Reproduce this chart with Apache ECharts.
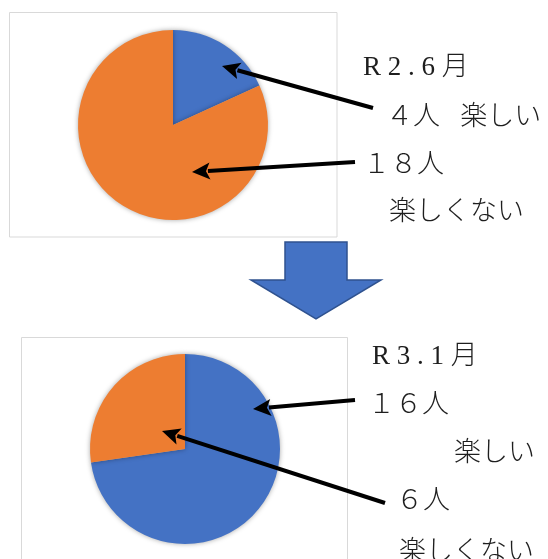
<!DOCTYPE html>
<html>
<head>
<meta charset="utf-8">
<script src="https://cdn.jsdelivr.net/npm/echarts@6/dist/echarts.min.js"></script>
<style>
  html, body { margin: 0; padding: 0; background: #fff; }
  #main { width: 548px; height: 559px; }
</style>
</head>
<body>
<div id="main"></div>
<script>
// Survey answers: how many children said school is fun / not fun
const categories = ['楽しい', '楽しくない'];
const periods = ['R 2 . 6 月', 'R 3 . 1 月'];
const countsR2 = [4, 18];
const countsR3 = [16, 6];
const sliceColors = ['#4472C4', '#ED7D31'];

const FONT = "'Liberation Serif', 'Noto Sans CJK JP', serif";
const INK = '#1e1e1e';

// Full-width digits, as typed in the handout
function fw(n) {
  return String(n).replace(/[0-9]/g, d => String.fromCharCode(d.charCodeAt(0) + 0xFEE0));
}

function label(text, x, y) {
  return {
    type: 'text', z: 50,
    style: { text, x, y, fill: INK, fontSize: 27, fontFamily: FONT, fontWeight: 300,
             verticalAlign: 'middle', align: 'left' }
  };
}

// Black callout arrow from (x1,y1) to the tip at (x2,y2)
function callout(x1, y1, x2, y2) {
  const dx = x2 - x1, dy = y2 - y1, len = Math.hypot(dx, dy);
  const ux = dx / len, uy = dy / len;
  const headLen = 18, headHalf = 8.5;
  const bx = x2 - ux * headLen, by = y2 - uy * headLen;
  return {
    type: 'group',
    children: [
      { type: 'line', z: 60, shape: { x1, y1, x2: bx + ux * 2, y2: by + uy * 2 },
        style: { stroke: '#000', lineWidth: 4 } },
      { type: 'polygon', z: 61,
        shape: { points: [[x2, y2], [bx - uy * headHalf, by + ux * headHalf], [bx + ux * 4, by + uy * 4], [bx + uy * headHalf, by - ux * headHalf]] },
        style: { fill: '#000' } }
    ]
  };
}

function pieSeries(counts, center) {
  return {
    type: 'pie',
    z: 2,
    center,
    radius: 95,
    startAngle: 90,
    clockwise: true,
    silent: true,
    label: { show: false },
    labelLine: { show: false },
    itemStyle: { borderWidth: 0, shadowBlur: 5, shadowColor: 'rgba(0,0,0,0.35)' },
    data: categories.map((name, i) => ({ name, value: counts[i], itemStyle: { color: sliceColors[i] } }))
  };
}

const chart = echarts.init(document.getElementById('main'), null, { renderer: 'canvas' });

chart.setOption({
  backgroundColor: '#fff',
  animation: false,
  series: [
    pieSeries(countsR2, [173, 125]),
    pieSeries(countsR3, [185, 449])
  ],
  graphic: [
    // frames around the two charts
    { type: 'rect', z: 0, shape: { x: 9.5, y: 12.5, width: 327.5, height: 224.5 },
      style: { fill: null, stroke: '#d9d9d9', lineWidth: 1 } },
    { type: 'rect', z: 0, shape: { x: 21.5, y: 337.5, width: 326, height: 260 },
      style: { fill: null, stroke: '#d9d9d9', lineWidth: 1 } },

    // big arrow between the two charts
    { type: 'polygon', z: 10,
      shape: { points: [[285, 242], [347, 242], [347, 280], [381, 280], [316, 319], [251, 280], [285, 280]] },
      style: { fill: '#4472C4', stroke: '#2F528F', lineWidth: 1.5 } },

    // R2.6
    label(periods[0], 363, 68),
    label(fw(countsR2[0]) + '人\u2002 ' + categories[0], 386, 118),
    label(fw(countsR2[1]) + '人', 363, 166),
    label(categories[1], 389, 213),
    callout(373, 108, 222, 66),
    callout(355, 162, 192, 172),

    // R3.1
    label(periods[1], 372, 357),
    label(fw(countsR3[0]) + '人', 368, 406),
    label(categories[0], 454, 454),
    label(fw(countsR3[1]) + '人', 396, 502),
    label(categories[1], 399, 553),
    callout(355, 400, 253, 409),
    callout(385, 503, 162, 431)
  ]
});
</script>
</body>
</html>
